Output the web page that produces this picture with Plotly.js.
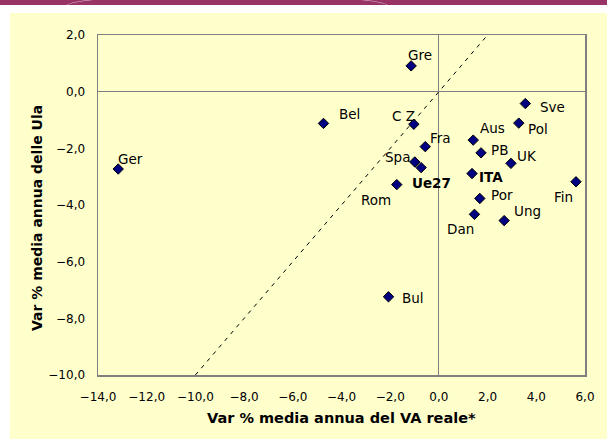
<!DOCTYPE html>
<html>
<head>
<meta charset="utf-8">
<script src="https://cdn.plot.ly/plotly-3.0.1.min.js"></script>
<style>
html,body{margin:0;padding:0;background:#fff;overflow:hidden;}
#wrap{position:relative;width:607px;height:439px;background:#fff;}
#band{position:absolute;left:0;top:0;width:607px;height:5px;background:#993366;overflow:hidden;}
#arc1{position:absolute;left:66px;top:-6px;width:320px;height:22px;border:1px solid rgba(255,255,255,0.8);border-radius:50%;}
#panel{position:absolute;left:10px;top:13px;width:597px;height:426px;background:#FFFFCC;}
#chart{position:absolute;left:0;top:0;width:607px;height:439px;}
</style>
</head>
<body>
<div id="wrap">
<div id="band"><div id="arc1"></div></div>
<div id="panel"></div>
<div id="chart"></div>
</div>
<script>
// ---- data ----
const countries = ['Ger','Bel','Gre','C Z','Fra','Spa','Ue27','Rom','Bul','Aus','Sve','Pol','PB','UK','ITA','Fin','Por','Dan','Ung'];
const vaReale  = [-13.17,-4.74,-1.14,-1.03,-0.56,-0.99,-0.73,-1.73,-2.07,1.41,3.55,3.28,1.73,2.96,1.36,5.63,1.68,1.46,2.68];
const ulaVar   = [-2.73,-1.12,0.91,-1.15,-1.94,-2.48,-2.68,-3.28,-7.24,-1.71,-0.42,-1.11,-2.16,-2.53,-2.89,-3.18,-3.77,-4.33,-4.55];
const boldLabels = ['Ue27','ITA'];
// bisector reference line y = x
const refX = [-10, 2];
const refY = [-10, 2];
const xTicks = [-14,-12,-10,-8,-6,-4,-2,0,2,4,6];
const yTicks = [-10,-8,-6,-4,-2,0,2];

// ---- label offsets (pixels, dx right, dy down) ----
const labelOffsets = {
  'Ger':[12,-10],'Bel':[26,-9],'Gre':[9,-11],'C Z':[-10,-8],'Fra':[15,-9],
  'Spa':[-17,-5],'Ue27':[10,15],'Rom':[-21,15],'Bul':[24,1],'Aus':[19,-12],
  'Sve':[27,3],'Pol':[19,6],'PB':[18,-3],'UK':[16,-7],'ITA':[19,3],
  'Fin':[-12,15],'Por':[22,-3],'Dan':[-14,15],'Ung':[23,-10]
};

const FONT = 'DejaVu Sans, Verdana, sans-serif';
const L = 98, R = 22, T = 35, B = 64, W = 607, H = 439;
const pw = W - L - R, ph = H - T - B;
const px2x = p => (p - L) / pw;
const px2y = p => (H - B - p) / ph;

const annotations = countries.map((c, i) => {
  const off = labelOffsets[c] || [15, 0];
  const bold = boldLabels.indexOf(c) >= 0;
  return {
    x: vaReale[i], y: ulaVar[i], xref: 'x', yref: 'y',
    text: bold ? '<b>' + c + '</b>' : c,
    showarrow: false, xanchor: 'center', yanchor: 'middle',
    xshift: off[0], yshift: -off[1],
    font: {family: FONT, size: 13.5, color: '#000'}
  };
});
annotations.push({
  xref: 'paper', yref: 'paper', x: px2x(341), y: px2y(418),
  text: '<b>Var % media annua del VA reale*</b>', showarrow: false,
  xanchor: 'center', yanchor: 'middle',
  font: {family: FONT, size: 14.5, color: '#000'}
});
annotations.push({
  xref: 'paper', yref: 'paper', x: px2x(37), y: px2y(218),
  text: '<b>Var % media annua delle Ula</b>', showarrow: false, textangle: -90,
  xanchor: 'center', yanchor: 'middle',
  font: {family: FONT, size: 14, color: '#000'}
});

const traces = [
  {x: refX, y: refY, mode: 'lines', type: 'scatter', hoverinfo: 'skip',
   line: {color: '#000', width: 1, dash: '4px,5px'}},
  {x: vaReale, y: ulaVar, text: countries, mode: 'markers', type: 'scatter',
   marker: {symbol: 'diamond', size: 8, color: '#000080', line: {color: '#000', width: 1}}}
];

const layout = {
  width: W, height: H,
  margin: {l: L, r: R, t: T, b: B, pad: 0},
  paper_bgcolor: 'rgba(0,0,0,0)', plot_bgcolor: 'rgba(0,0,0,0)',
  showlegend: false, separators: ', ',
  font: {family: FONT, size: 12, color: '#000'},
  xaxis: {
    range: [-14, 6], tickvals: xTicks, tickformat: '.1f', showgrid: false,
    zeroline: true, zerolinecolor: '#808080', zerolinewidth: 1,
    showline: true, mirror: true, linecolor: '#808080', linewidth: 1.5,
    ticks: 'outside', ticklen: 10, tickcolor: 'rgba(0,0,0,0)',
    tickfont: {family: FONT, size: 12, color: '#000'}, fixedrange: true
  },
  yaxis: {
    range: [-10, 2], tickvals: yTicks, tickformat: '.1f', showgrid: false,
    zeroline: true, zerolinecolor: '#808080', zerolinewidth: 1,
    showline: true, mirror: true, linecolor: '#808080', linewidth: 1.5,
    ticks: 'outside', ticklen: 9, tickcolor: 'rgba(0,0,0,0)',
    tickfont: {family: FONT, size: 12, color: '#000'}, fixedrange: true
  },
  annotations: annotations
};

Plotly.newPlot('chart', traces, layout, {displayModeBar: false, staticPlot: true});
</script>
</body>
</html>
